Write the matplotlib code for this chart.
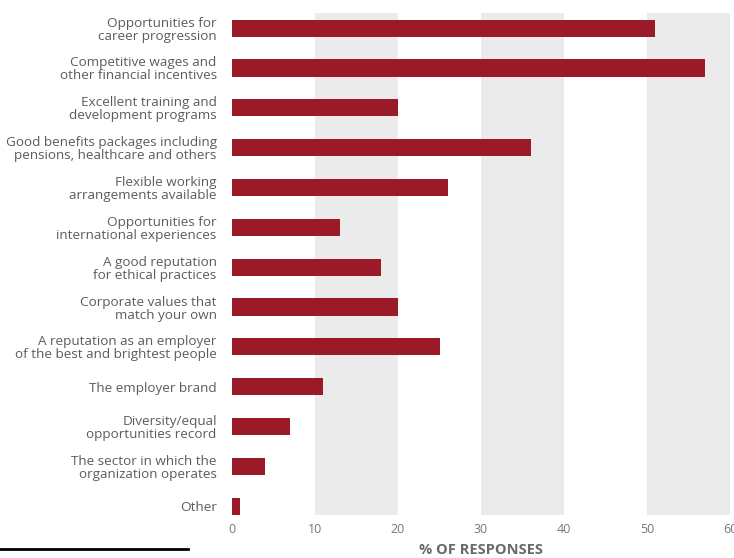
import matplotlib
matplotlib.use("Agg")
import matplotlib.pyplot as plt

categories = [
    "Opportunities for\ncareer progression",
    "Competitive wages and\nother financial incentives",
    "Excellent training and\ndevelopment programs",
    "Good benefits packages including\npensions, healthcare and others",
    "Flexible working\narrangements available",
    "Opportunities for\ninternational experiences",
    "A good reputation\nfor ethical practices",
    "Corporate values that\nmatch your own",
    "A reputation as an employer\nof the best and brightest people",
    "The employer brand",
    "Diversity/equal\nopportunities record",
    "The sector in which the\norganization operates",
    "Other",
]
values = [51, 57, 20, 36, 26, 13, 18, 20, 25, 11, 7, 4, 1]
xticks = [0, 10, 20, 30, 40, 50, 60]
xlabel = "% OF RESPONSES"

plt.rcParams['font.family'] = ['Open Sans', 'DejaVu Sans']

fig = plt.figure(figsize=(7.34, 5.58), dpi=100)
ax = fig.add_axes([232/734, 1 - 515/558, (730-232)/734, (515-13)/558])

bar_color = "#9a1a28"
text_color = "#5c5c5c"

for lo in (10, 30, 50):
    ax.axvspan(lo, lo + 10, color="#ebebeb", zorder=0, lw=0)

y = list(range(len(categories)))
ax.barh(y, values, height=0.43, color=bar_color, zorder=2)
ax.set_ylim(len(categories) - 1 + 0.22, -0.38)
ax.set_xlim(0, 60)
ax.set_yticks(y)
ax.set_yticklabels(categories, fontsize=9.7, color=text_color, linespacing=1.0)
ax.set_xticks(xticks)
ax.set_xticklabels([str(t) for t in xticks], fontsize=9, color="#777777")
ax.tick_params(axis="both", length=0)
ax.tick_params(axis="y", pad=11)
ax.tick_params(axis="x", pad=6)
for s in ax.spines.values():
    s.set_visible(False)

fig.text((232 + 730) / 2 / 734, 1 - 550/558, xlabel, ha="center", va="center",
         fontsize=10.5, fontweight="bold", color="#6a6a6a")
fig.add_artist(plt.Line2D([0, 188/734], [1 - 549/558, 1 - 549/558],
                          color="black", lw=2, transform=fig.transFigure))

fig.savefig("out.png", dpi=100)
